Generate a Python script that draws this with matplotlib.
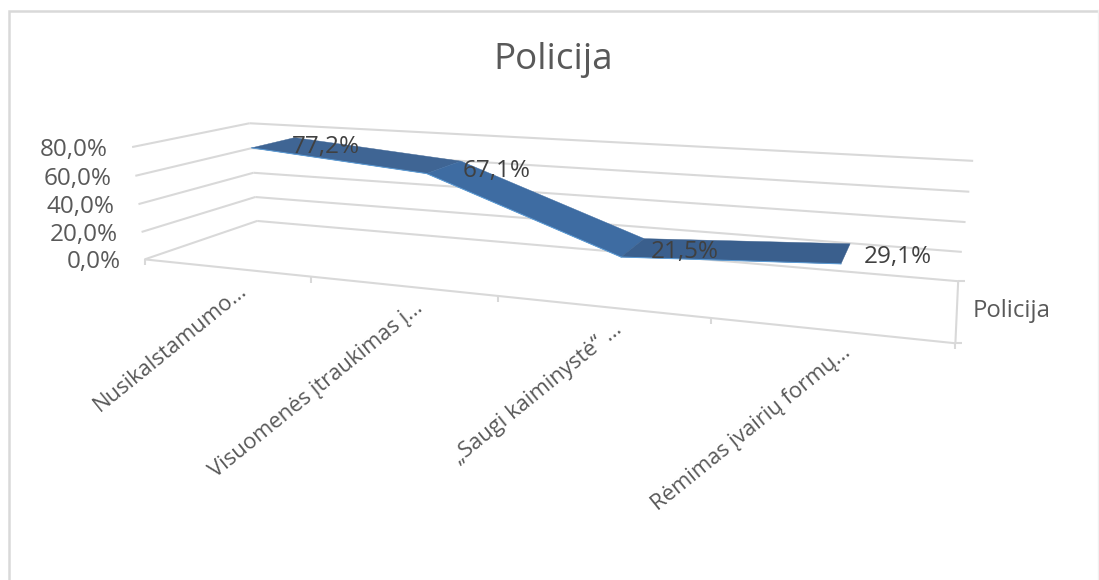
import numpy as np
import matplotlib
matplotlib.use("Agg")
import matplotlib.pyplot as plt
from matplotlib.patches import Polygon

# ---- data ----
categories = ["Nusikalstamumo…", "Visuomenės įtraukimas į…", "„Saugi kaiminystė“ …", "Rėmimas įvairių formų…"]
values = [77.2, 67.1, 21.5, 29.1]
value_ticks = [0, 20, 40, 60, 80]
value_labels = ["0,0%", "20,0%", "40,0%", "60,0%", "80,0%"]
series_name = "Policija"

# ---- scale of the 3D box: (category position, value, depth) -> figure pixels ----
box_model = np.array([
    (0, 0, 0), (0, 20, 0), (0, 40, 0), (0, 60, 0), (0, 80, 0),
    (0, 0, 1), (0, 20, 1), (0, 40, 1), (0, 60, 1), (0, 80, 1),
    (4, 0, 1), (4, 20, 1), (4, 40, 1), (4, 60, 1), (4, 80, 1),
    (1, 0, 0), (2, 0, 0), (3, 0, 0), (4, 0, 0)], float)
box_pixels = np.array([
    (145, 259), (142, 232), (138, 204), (135, 176), (132, 147),
    (257, 221), (255, 197), (253, 173), (252, 148), (250, 123),
    (958, 281), (962, 252), (966, 222), (969, 192), (973, 161),
    (311, 277), (498, 296), (710, 319), (956, 342)], float)


def fit_camera(model, pix):
    m = model / np.array([4.0, 80.0, 1.0])
    p = pix / 1000.0
    rows = []
    for (x, y, z), (u, v) in zip(m, p):
        rows.append([x, y, z, 1, 0, 0, 0, 0, -u * x, -u * y, -u * z, -u])
        rows.append([0, 0, 0, 0, x, y, z, 1, -v * x, -v * y, -v * z, -v])
    return np.linalg.svd(np.array(rows))[2][-1].reshape(3, 4)


CAM = fit_camera(box_model, box_pixels)


def project(t, v, d):
    h = CAM @ np.array([t / 4.0, v / 80.0, d, 1.0])
    return np.array([h[0] / h[2], h[1] / h[2]]) * 1000.0


GRID = "#D9D9D9"
FONT = "Open Sans"
W, H = 1099, 580
fig = plt.figure(figsize=(W / 100, H / 100), dpi=100)
ax = fig.add_axes([0, 0, 1, 1])
ax.set_xlim(0, W)
ax.set_ylim(H, 0)
ax.axis("off")

# chart frame
ax.plot([8.5, 8.5, W], [H, 10.5, 10.5], color=GRID, lw=1.8, solid_joinstyle="miter")
ax.plot([W - 1, W - 1], [10, H], color="#F0F0F0", lw=1)


def seg(a, b, **kw):
    ax.plot([a[0], b[0]], [a[1], b[1]], color=GRID, lw=1.5, solid_capstyle="butt", **kw)


# value gridlines on the side and back walls, with labels
for v, lab in zip(value_ticks, value_labels):
    seg(project(0, v, 0), project(0, v, 1))
    seg(project(0, v, 1), project(4, v, 1))
    p = project(0, v, 0)
    ax.text(p[0] - 24, p[1] + 3, lab, ha="right", va="center", fontsize=17.5,
            color="#595959", family=FONT)

# floor front edge, right edge and ticks
n = len(categories)
seg(project(0, 0, 0), project(n, 0, 0))
seg(project(n, 0, 0), project(n, 0, 1))
for i in range(n + 1):
    p = project(i, 0, 0)
    seg(p, p + np.array([0, 6]))
for d in (0, 1):
    p = project(n, 0, d)
    seg(p, p + np.array([7, 0]))

# ribbon
d_front, d_back = 0.3, 0.7
seg_colors = ["#3F6594", "#3E6CA2", "#3A5F8D"]
xs = np.arange(n) + 0.5
front = np.array([project(t, v, d_front) for t, v in zip(xs, values)])
back = np.array([project(t, v, d_back) for t, v in zip(xs, values)])
for i in range(n - 1):
    ax.add_patch(Polygon([front[i], front[i + 1], back[i + 1], back[i]], closed=True,
                         facecolor=seg_colors[i], edgecolor=seg_colors[i], lw=0.3, zorder=3))
    ax.plot(front[i:i + 2, 0], front[i:i + 2, 1], color="#5B9BD5", lw=0.7, zorder=3.5)

# data labels
for t, v in zip(xs, values):
    p = project(t, v, 0.5)
    ax.text(p[0] + 52, p[1] + 4, f"{v:.1f}%".replace(".", ","), ha="center", va="center",
            fontsize=17.5, color="#404040", family=FONT, zorder=5)

# category labels
for t, lab in zip(xs, categories):
    p = project(t, 0, 0)
    ax.text(p[0] + 19, p[1] + 20, lab, rotation=39, rotation_mode="anchor", ha="right",
            va="center", fontsize=15.8, color="#595959", family=FONT)

# series label and title
ax.text(973, 311, series_name, ha="left", va="center", fontsize=17.2, color="#595959", family=FONT)
ax.text(553, 60, "Policija", ha="center", va="center", fontsize=26.5, color="#595959", family=FONT)

fig.savefig("out.png", dpi=100)
